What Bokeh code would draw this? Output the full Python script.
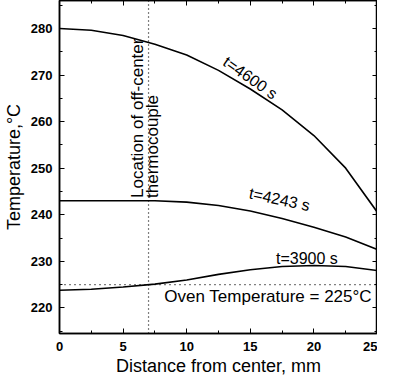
import math
from bokeh.plotting import figure
from bokeh.models import (LinearAxis, Span, Label, Title, SingleIntervalTicker,
                          CustomLabelingPolicy, CustomJSTickFormatter)
from bokeh.embed import file_html
from bokeh.resources import INLINE

# ---- data ----
distance_mm = [0, 2.5, 5, 7.5, 10, 12.5, 15, 17.5, 20, 22.5, 25]
temp_t4600 = [280.0, 279.6, 278.5, 276.6, 274.3, 271.0, 267.0, 262.5, 257.0, 250.0, 240.5]
temp_t4243 = [243.0, 243.0, 243.0, 243.0, 242.7, 242.0, 240.8, 239.2, 237.3, 235.2, 232.5]
temp_t3900 = [223.8, 224.0, 224.5, 225.1, 226.0, 227.2, 228.2, 228.9, 229.1, 228.9, 228.0]
series_labels = ["t=4600 s", "t=4243 s", "t=3900 s"]
thermocouple_mm = 7.0
oven_temp = 225.0
x_ticks_interval = 5
y_ticks_interval = 10
x_title = "Distance from center, mm"
y_title = "Temperature,\u00b0C"

FONT = "Liberation Sans"

p = figure(width=377, height=375, x_range=(0, 25), y_range=(214.5, 286),
           output_backend="svg", toolbar_location=None,
           min_border_left=10, min_border_right=0, min_border_top=0, min_border_bottom=42,
           background_fill_color="white", border_fill_color="white")
p.outline_line_color = "black"
p.outline_line_width = 1.5
p.grid.visible = False

xt = SingleIntervalTicker(interval=x_ticks_interval, num_minor_ticks=2)
yt = SingleIntervalTicker(interval=y_ticks_interval, num_minor_ticks=2)

p.xaxis.ticker = xt
p.yaxis.ticker = yt
p.yaxis.axis_label = y_title

for ax in (p.xaxis[0], p.yaxis[0]):
    ax.axis_line_color = "black"
    ax.axis_line_width = 1.5
    ax.major_tick_in = 5
    ax.major_tick_out = 0
    ax.minor_tick_in = 3
    ax.minor_tick_out = 0
    ax.major_tick_line_color = "black"
    ax.minor_tick_line_color = "black"
    ax.major_label_text_font = FONT
    ax.major_label_text_font_style = "bold"
    ax.major_label_text_font_size = "13px"
    ax.major_label_text_color = "black"
    ax.axis_label_text_font = FONT
    ax.axis_label_text_font_style = "normal"
    ax.axis_label_text_font_size = "18px"
    ax.axis_label_text_color = "black"

p.xaxis.major_label_standoff = 8
p.yaxis.major_label_standoff = 7
p.yaxis.axis_label_standoff = 4

no_labels = CustomLabelingPolicy(code="""
    for (const i of indices) { indices.unset(i) }
    return indices
""")
blank = CustomJSTickFormatter(code="return ''")

# mirrored axes (ticks only, no labels) on top and right
for loc, tick in (("right", yt), ("above", xt)):
    ax = LinearAxis(ticker=tick, formatter=blank, major_label_policy=no_labels,
                    major_label_standoff=0, major_tick_in=5, major_tick_out=0,
                    minor_tick_in=3, minor_tick_out=0,
                    axis_line_color="black", axis_line_width=1.5,
                    major_tick_line_color="black", minor_tick_line_color="black")
    p.add_layout(ax, loc)

# x-axis title as a Title panel below the axis
p.add_layout(Title(text=x_title, align="center", offset=9, standoff=0,
                   text_font=FONT, text_font_size="18px", text_font_style="normal",
                   text_color="black"), "below")

# reference lines
p.add_layout(Span(location=thermocouple_mm, dimension="height", line_color="black",
                  line_width=1.2, line_dash="1 3"))
p.add_layout(Span(location=oven_temp, dimension="width", line_color="black",
                  line_width=1.2, line_dash="1 4"))

# curves
for ys in (temp_t4600, temp_t4243, temp_t3900):
    p.line(distance_mm, ys, line_color="black", line_width=1.6)

def lab(x, y, text, angle_deg=0.0, align="center", baseline="middle", size="16px"):
    p.add_layout(Label(x=x, y=y, text=text, angle=math.radians(angle_deg),
                       text_align=align, text_baseline=baseline,
                       text_font=FONT, text_font_size=size, text_color="black"))

lab(15.0, 269.4, series_labels[0], -35)
lab(17.3, 243.3, series_labels[1], -12)
lab(19.45, 230.6, series_labels[2])
lab(16.4, 222.4, "Oven Temperature = %d\u00b0C" % int(oven_temp), size="17px")
lab(6.1, 243.6, "Location of off-center", 90, align="left", size="17px")
lab(7.3, 243.6, "thermocouple", 90, align="left", size="17px")

open("out.html", "w").write(file_html(p, INLINE))
